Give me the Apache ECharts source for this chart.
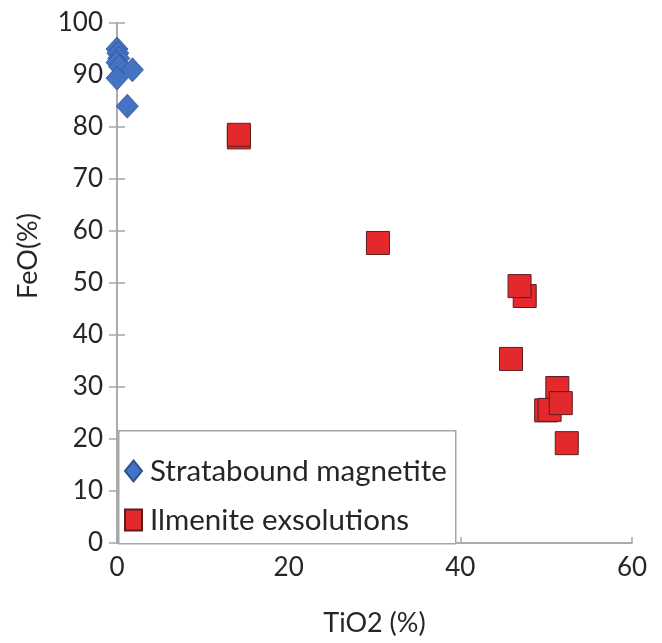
<!DOCTYPE html>
<html>
<head>
<meta charset="utf-8">
<script src="https://cdn.jsdelivr.net/npm/echarts@6/dist/echarts.min.js"></script>
<style>
  html, body { margin: 0; padding: 0; background: #fff; }
  #chart { width: 662px; height: 643px; }
</style>
</head>
<body>
<div id="chart"></div>
<script>
// Stratabound magnetite [TiO2, FeO]
const magnetite = [
  [0.0, 95.0], [0.1, 94.2], [0.2, 93.2], [0.0, 92.4],
  [0.3, 91.6], [1.8, 91.0], [0.0, 89.4], [1.2, 84.0]
]
// Ilmenite exsolutions [TiO2, FeO]
const ilmenite = [
  [14.2, 78.0], [14.2, 78.5], [30.4, 57.7], [47.5, 47.5], [46.9, 49.4],
  [45.9, 35.4], [51.3, 29.8], [50.0, 25.5], [50.4, 25.6], [51.7, 26.9], [52.4, 19.2]
]
const seriesNames = ['Stratabound magnetite', 'Ilmenite exsolutions']
const xTitle = 'TiO2 (%)'
const yTitle = 'FeO(%)'
const xTicks = { min: 0, max: 60, interval: 20 }
const yTicks = { min: 0, max: 100, interval: 10 }

const font = 'Lato'
const axisGray = '#a6a6a6'
const textColor = '#262626'

const chart = echarts.init(document.getElementById('chart'))
chart.setOption({
  animation: false,
  grid: { left: 117, right: 30, top: 23, bottom: 100 },
  xAxis: [
    {
      type: 'value',
      min: xTicks.min, max: xTicks.max, interval: xTicks.interval,
      name: xTitle,
      nameLocation: 'middle',
      nameGap: 67,
      nameTextStyle: { fontFamily: font, fontSize: 27, color: textColor },
      axisLine: { show: true, lineStyle: { color: axisGray, width: 1.5 } },
      axisTick: { show: true, inside: true, length: 6, lineStyle: { color: axisGray, width: 1.5 } },
      axisLabel: { fontFamily: font, fontSize: 26, color: textColor, margin: 12 },
      splitLine: { show: false }
    },
    {
      type: 'value', position: 'top',
      min: xTicks.min, max: xTicks.max, interval: xTicks.interval,
      axisLine: { show: true, lineStyle: { color: axisGray, width: 1.5 } },
      axisTick: { show: false },
      axisLabel: { show: false },
      splitLine: { show: false }
    }
  ],
  yAxis: [
    {
      type: 'value',
      min: yTicks.min, max: yTicks.max, interval: yTicks.interval,
      axisLine: { show: true, lineStyle: { color: axisGray, width: 1.5 } },
      axisTick: { show: true, inside: true, length: 8, lineStyle: { color: axisGray, width: 1.5 } },
      axisLabel: { fontFamily: font, fontSize: 26, color: textColor, margin: 14 },
      splitLine: { show: false }
    },
    {
      type: 'value', position: 'right',
      min: yTicks.min, max: yTicks.max, interval: yTicks.interval,
      axisLine: { show: true, lineStyle: { color: axisGray, width: 1.5 } },
      axisTick: { show: true, inside: true, length: 8, lineStyle: { color: axisGray, width: 1.5 } },
      axisLabel: { show: false },
      splitLine: { show: false }
    }
  ],
  graphic: [
    {
      type: 'rect', z: 3, left: 118, top: 430,
      shape: { width: 337, height: 113 },
      style: { fill: '#fff', stroke: axisGray, lineWidth: 1.5 }
    },
    {
      type: 'text', z: 3, x: 28, y: 256, rotation: Math.PI / 2,
      style: {
        text: yTitle, fontFamily: font, fontSize: 27, fill: textColor,
        align: 'center', verticalAlign: 'middle'
      }
    }
  ],
  legend: {
    z: 5,
    orient: 'vertical',
    left: 118, top: 432,
    padding: [24, 8, 10, 6],
    itemGap: 19,
    itemWidth: 17, itemHeight: 21,
    textStyle: { fontFamily: font, fontSize: 29.5, color: textColor, padding: [0, 0, 0, 3] },
    data: [
      { name: seriesNames[0], icon: 'diamond' },
      { name: seriesNames[1], icon: 'rect' }
    ]
  },
  series: [
    {
      name: seriesNames[0],
      type: 'scatter',
      symbol: 'diamond',
      symbolSize: [22, 24],
      data: magnetite,
      itemStyle: { color: '#4472c4', borderColor: '#2f528f', borderWidth: 0.8, opacity: 1 }
    },
    {
      name: seriesNames[1],
      type: 'scatter',
      symbol: 'rect',
      symbolSize: 23,
      data: ilmenite,
      itemStyle: { color: '#e3292c', borderColor: '#5e1c1c', borderWidth: 1, opacity: 1 }
    }
  ]
})
</script>
</body>
</html>
